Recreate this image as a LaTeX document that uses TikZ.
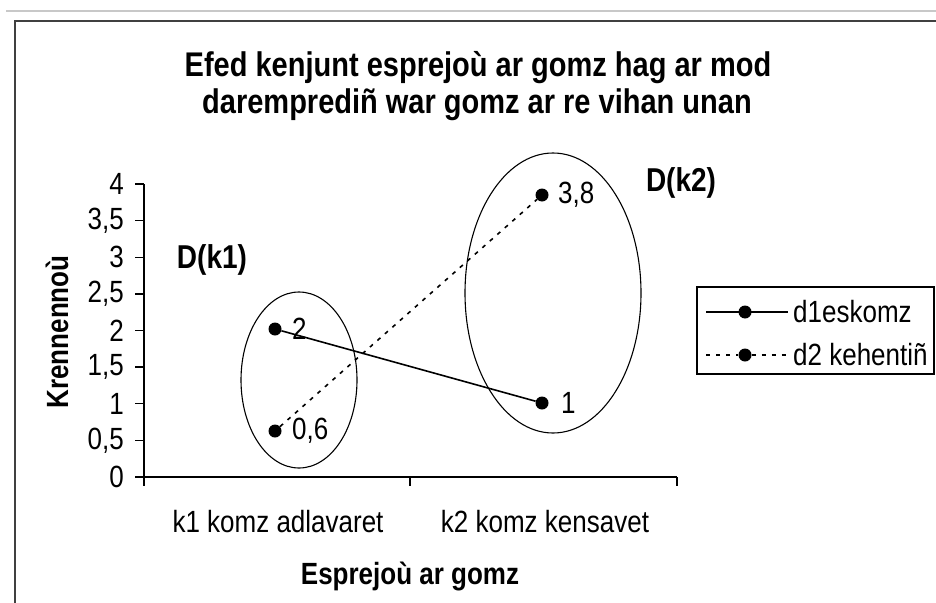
\documentclass[tikz,border=0pt]{standalone}
\usepackage{fontspec}
\usepackage{graphicx}
\setmainfont{Liberation Sans}
\definecolor{rulegray}{RGB}{200,200,200}
\definecolor{framegray}{RGB}{64,64,64}
\newcommand\tallt[1]{\scalebox{1}[1.18]{#1}}
\begin{document}
\begin{tikzpicture}[x=1pt,y=-1pt,
  dot/.style={circle,fill=black,inner sep=0pt,minimum size=13pt},
  txt/.style={font=\fontsize{26}{30}\selectfont,inner sep=0pt},
  btxt/.style={font=\bfseries\fontsize{26}{30}\selectfont,inner sep=0pt},
  ttl/.style={font=\bfseries\fontsize{29}{34}\selectfont,inner sep=0pt},
  solidser/.style={line width=1.6pt},
  dotser/.style={line width=1.6pt,dash pattern=on 4pt off 6pt},
  grp/.style={line width=1.1pt}]
\useasboundingbox (0,0) rectangle (936,602);
\fill[white] (0,0) rectangle (936,602);
% top rule and frame
\draw[line width=2pt,rulegray] (6,11) -- (936,11);
\draw[line width=2.5pt,framegray] (15,610) -- (15,21) -- (945,21);
% title
\node[ttl] (t1) at (478,68) {\tallt{Efed kenjunt esprejoù ar gomz hag ar mod}};
\node[ttl] (t2) at (477,105) {\tallt{darempredi\~{n} war gomz ar re vihan unan}};
% axes
\coordinate (o) at (144,477);
\coordinate (ytop) at (144,184);
\coordinate (xend) at (677,477);
\draw[line width=1.4pt] (ytop) -- (o) -- (xend);
\foreach \v/\l [count=\i from 0] in {0/0,1/{0,5},2/1,3/{1,5},4/2,5/{2,5},6/3,7/{3,5},8/4}{
  \draw[line width=1.4pt] (135,477-36.625*\v) -- (144,477-36.625*\v);
  \node[txt,anchor=east] (yl\i) at (124,477-36.625*\v) {\tallt{\l}};
}
\foreach \x in {144,410,677}{
  \draw[line width=1.4pt] (\x,477) -- (\x,486);
}
\node[txt] (c1) at (278,522) {\tallt{k1 komz adlavaret}};
\node[txt] (c2) at (545,522) {\tallt{k2 komz kensavet}};
\node[btxt] (xt) at (410,576) {\tallt{Esprejoù ar gomz}};
\node[btxt,rotate=90] (yt) at (57,332) {\tallt{Krennennoù}};
% groups
\draw[grp] (299,380) ellipse [x radius=58, y radius=88];
\draw[grp] (553,293) ellipse [x radius=88, y radius=140];
\node[ttl,font=\bfseries\fontsize{28}{32}\selectfont] (dk1) at (212,260) {\tallt{D(k1)}};
\node[ttl,font=\bfseries\fontsize{28}{32}\selectfont] (dk2) at (681,183) {\tallt{D(k2)}};
% data
\node[dot] (a1) at (275,329) {};
\node[dot] (a2) at (542,403) {};
\node[dot] (b1) at (275,431) {};
\node[dot] (b2) at (542,195) {};
\draw[solidser] (a1) -- (a2);
\draw[dotser] (b1) -- (b2);
\node[txt,anchor=west] (la1) at (292,329) {\tallt{2}};
\node[txt,anchor=west] (la2) at (561,403) {\tallt{1}};
\node[txt,anchor=west] (lb1) at (292,431) {\tallt{0,6}};
\node[txt,anchor=west] (lb2) at (558,195) {\tallt{3,8}};
% legend
\draw[line width=1.4pt] (697,287) rectangle (934,374);
\coordinate (s1a) at (706,312);
\coordinate (s1b) at (788,312);
\node[dot] (m1) at (745,312) {};
\draw[solidser] (s1a) -- (s1b);
\node[txt,anchor=west] (lg1) at (793,312) {\tallt{d1eskomz}};
\coordinate (s2a) at (706,355);
\coordinate (s2b) at (788,355);
\node[dot] (m2) at (745,355) {};
\draw[dotser] (s2a) -- (m2) -- (s2b);
\node[txt,anchor=west] (lg2) at (793,355) {\tallt{d2 kehenti\~{n}}};
\end{tikzpicture}
\end{document}
